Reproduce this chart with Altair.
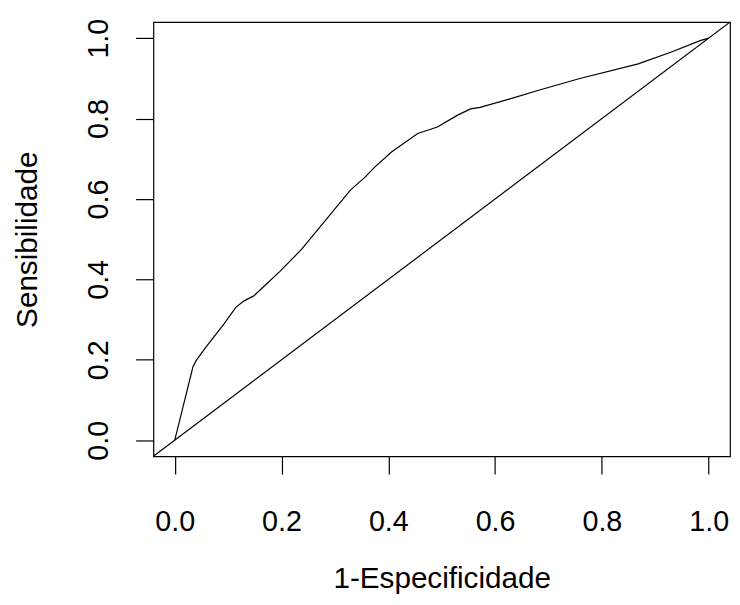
import altair as alt
import pandas as pd

# ROC curve
fpr = [0.0, 0.034, 0.040, 0.058, 0.092, 0.114, 0.129, 0.148, 0.197, 0.237, 0.283,
       0.329, 0.357, 0.375, 0.406, 0.455, 0.492, 0.529, 0.554, 0.572, 0.628, 0.680,
       0.757, 0.868, 0.929, 0.984, 1.0]
tpr = [0.0, 0.182, 0.198, 0.231, 0.289, 0.330, 0.346, 0.359, 0.420, 0.474, 0.548,
       0.622, 0.655, 0.680, 0.717, 0.763, 0.779, 0.808, 0.824, 0.828, 0.849, 0.870,
       0.899, 0.936, 0.965, 0.994, 1.0]

# reference diagonal (abline 0,1) across the whole plotting region
diag_x = [-0.04, 1.04]
diag_y = [-0.04, 1.04]

ticks = [0.0, 0.2, 0.4, 0.6, 0.8, 1.0]

roc = pd.DataFrame({"x": fpr, "y": tpr, "o": list(range(len(fpr)))})
diag = pd.DataFrame({"x": diag_x, "y": diag_y, "o": [0, 1]})

FONT = "Liberation Sans"

xs = alt.Scale(domain=[-0.04, 1.04], nice=False, zero=False)
ys = alt.Scale(domain=[-0.04, 1.04], nice=False, zero=False)

xax = alt.Axis(values=ticks, format=".1f", title="1-Especificidade", grid=False,
               domain=False, tickSize=18, tickColor="black", tickWidth=1.2,
               labelFontSize=29, labelColor="black", labelFont=FONT, labelPadding=34,
               titleFontSize=30, titleFont=FONT, titleFontWeight="normal", titleColor="black",
               titlePadding=28, labelFlush=False, labelOverlap=False)
yax = alt.Axis(values=ticks, format=".1f", title="Sensibilidade", grid=False,
               domain=False, tickSize=18, tickColor="black", tickWidth=1.2,
               labelFontSize=29, labelColor="black", labelFont=FONT, labelAngle=270,
               labelAlign="center", labelBaseline="bottom", labelPadding=22,
               titleFontSize=30, titleFont=FONT, titleFontWeight="normal", titleColor="black",
               titlePadding=43, labelFlush=False, labelOverlap=False)

line_roc = alt.Chart(roc).mark_line(color="black", strokeWidth=1.2, clip=True).encode(
    x=alt.X("x:Q", scale=xs, axis=xax),
    y=alt.Y("y:Q", scale=ys, axis=yax),
    order="o:Q",
)
line_diag = alt.Chart(diag).mark_line(color="black", strokeWidth=1.2, clip=True).encode(
    x=alt.X("x:Q", scale=xs),
    y=alt.Y("y:Q", scale=ys),
    order="o:Q",
)

chart = alt.layer(line_roc, line_diag).properties(
    width=583, height=439,
    padding={"left": 147, "top": 11, "right": 2, "bottom": 139},
    autosize=alt.AutoSizeParams(type="none"),
    background="white",
).configure_view(stroke="black", strokeWidth=1.2)

chart.save("out.html", embed_options={"renderer": "svg", "actions": False})
